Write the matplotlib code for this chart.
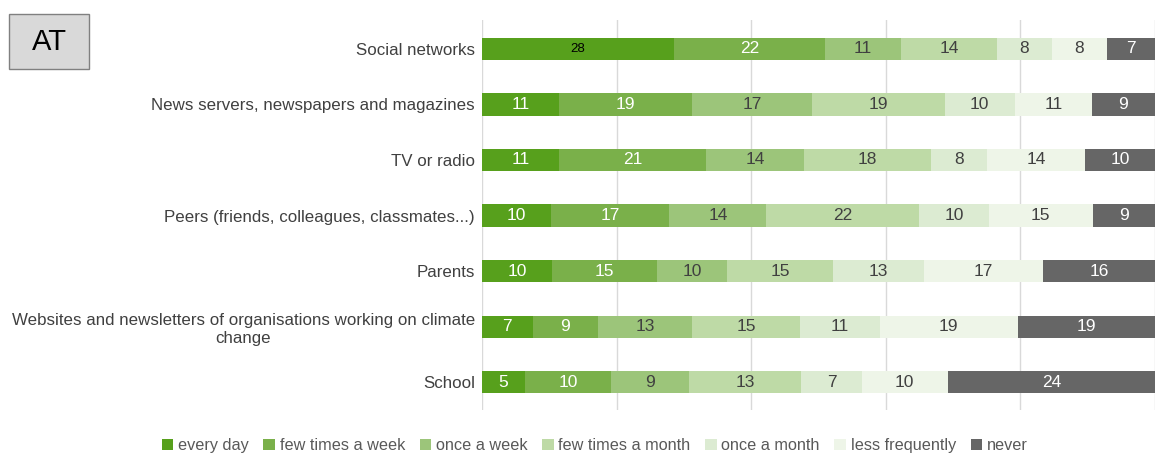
import numpy as np
import matplotlib.pyplot as plt
from matplotlib.patches import Rectangle

# Sources of climate information, answers per frequency (AT)
sources = ['Social networks',
           'News servers, newspapers and magazines',
           'TV or radio',
           'Peers (friends, colleagues, classmates...)',
           'Parents',
           'Websites and newsletters of organisations working on climate\nchange',
           'School']
freqs = ['every day', 'few times a week', 'once a week', 'few times a month',
         'once a month', 'less frequently', 'never']

every_day = [28, 11, 11, 10, 10, 7, 5]
few_week = [22, 19, 21, 17, 15, 9, 10]
once_week = [11, 17, 14, 14, 10, 13, 9]
few_month = [14, 19, 18, 22, 15, 15, 13]
once_month = [8, 10, 8, 10, 13, 11, 7]
less_freq = [8, 11, 14, 15, 17, 19, 10]
never = [7, 9, 10, 9, 16, 19, 24]

colors = ['#57a01c', '#7ab04a', '#9cc57a', '#bedaa6', '#dcebd2', '#eef5e8', '#666666']
txtcol = ['white', 'white', '#404040', '#404040', '#404040', '#404040', 'white']

vals = np.array([every_day, few_week, once_week, few_month,
                 once_month, less_freq, never], dtype=float)
shares = vals / vals.sum(axis=0) * 100

font = ['Liberation Sans', 'DejaVu Sans']

fig = plt.figure(figsize=(11.57, 4.54), dpi=100)
ax = fig.add_axes([0.4166, 0.097, 0.5817, 0.859])

y = np.arange(len(sources))
left = np.zeros(len(sources))
for k in range(len(freqs)):
    ax.barh(y, shares[k], left=left, height=0.4, color=colors[k],
            label=freqs[k], zorder=2)
    for i in range(len(sources)):
        xc = left[i] + shares[k][i] / 2
        if k == 0 and i == 0:
            ax.text(xc, y[i], '%d' % vals[k][i], ha='center', va='center',
                    fontsize=9.5, color='black', family=font, zorder=3)
        else:
            ax.text(xc, y[i], '%d' % vals[k][i], ha='center', va='center',
                    fontsize=12.5, color=txtcol[k], family=font, zorder=3)
    left += shares[k]

ax.set_xlim(0, 100)
ax.set_ylim(6.5, -0.52)
ax.set_xticks(np.arange(0, 101, 20))
ax.set_xticklabels([])
ax.tick_params(axis='x', length=0)
ax.tick_params(axis='y', length=0, pad=5)
ax.set_yticks(y)
ax.set_yticklabels(sources, fontsize=12.2, color='#404040',
                   family=font, multialignment='center')
ax.grid(axis='x', color='#d9d9d9', linewidth=1, zorder=0)
for s in ax.spines.values():
    s.set_visible(False)

leg = fig.legend(loc='lower center', bbox_to_anchor=(0.514, -0.03), ncol=7,
                 frameon=False, handlelength=0.7, handleheight=0.7,
                 handletextpad=0.3, columnspacing=0.9,
                 prop={'family': font, 'size': 11.7})
for t in leg.get_texts():
    t.set_color('#595959')

# country tag box
fig.patches.append(Rectangle((9 / 1157, 1 - 69 / 454), 80 / 1157, 55 / 454,
                             transform=fig.transFigure, facecolor='#d9d9d9',
                             edgecolor='#808080', linewidth=1))
fig.text(49 / 1157, 1 - 42 / 454, 'AT', ha='center', va='center',
         fontsize=21, family=font, color='black')

fig.savefig('out.png', dpi=100)
